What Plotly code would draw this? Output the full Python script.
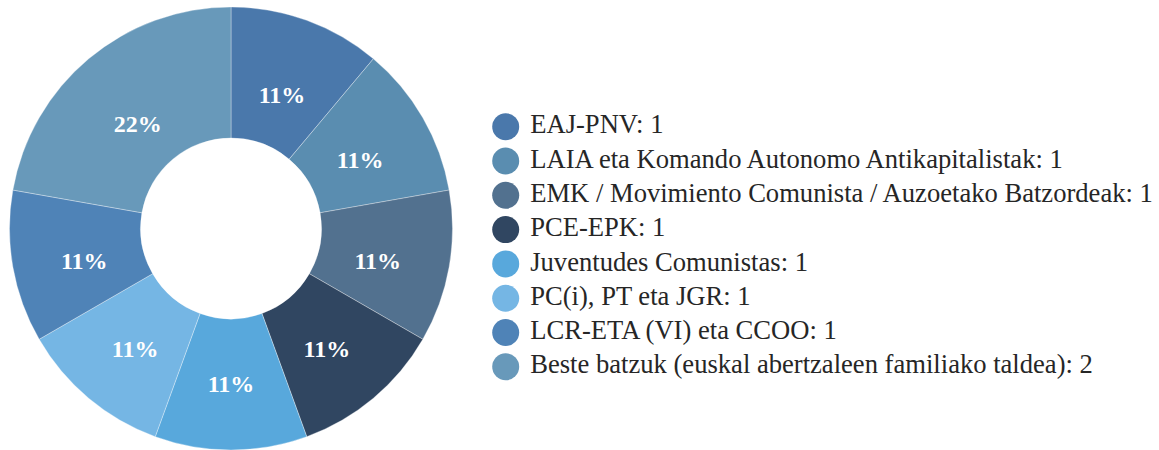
import plotly.graph_objects as go

labels = [
    "EAJ-PNV",
    "LAIA eta Komando Autonomo Antikapitalistak",
    "EMK / Movimiento Comunista / Auzoetako Batzordeak",
    "PCE-EPK",
    "Juventudes Comunistas",
    "PC(i), PT eta JGR",
    "LCR-ETA (VI) eta CCOO",
    "Beste batzuk (euskal abertzaleen familiako taldea)",
]
values = [1, 1, 1, 1, 1, 1, 1, 2]
colors = ["#4a78ab", "#5a8db0", "#52718f", "#304661",
          "#58a8dc", "#75b6e4", "#4f83b7", "#6899ba"]

W, H = 1159, 450
cx, cy, R, r_in = 231, 228.5, 221.5, 90.5
SERIF = "Liberation Serif, DejaVu Serif, Times New Roman, serif"


def dom(rad, dy=0.0):
    return dict(x=[(cx - rad) / W, (cx + rad) / W],
                y=[(H - cy - dy - rad) / H, (H - cy - dy + rad) / H])


fig = go.Figure()
# coloured ring
fig.add_trace(go.Pie(
    labels=labels, values=values, hole=r_in / R, sort=False,
    direction="clockwise", rotation=0,
    marker=dict(colors=colors, line=dict(color="rgba(255,255,255,0.55)", width=0.6)),
    textinfo="none", showlegend=False, hoverinfo="label+value+percent",
    domain=dom(R),
))
# transparent ring that only carries the percentage labels
R2 = 200
fig.add_trace(go.Pie(
    labels=labels, values=values, hole=r_in / R2, sort=False,
    direction="clockwise", rotation=0,
    marker=dict(colors=["rgba(0,0,0,0)"] * len(values), line=dict(width=0)),
    texttemplate="%{percent:.0%}", textposition="inside",
    insidetextorientation="horizontal",
    textfont=dict(family=SERIF, size=24, color="white", weight="bold"),
    showlegend=False, hoverinfo="skip",
    domain=dom(R2, dy=6.5),
))

# custom legend with large circle markers
leg_x0 = 505.7
leg_y0, leg_dy = 126.7, 34.3
fig.add_trace(go.Scatter(
    x=[0] * len(labels), y=list(range(len(labels))),
    mode="markers+text",
    marker=dict(size=27, color=colors, line=dict(width=0)),
    text=[f"\u00a0{l}: {v}" for l, v in zip(labels, values)],
    textposition="middle right",
    textfont=dict(family=SERIF, size=26.6, color="#262626"),
    showlegend=False, hoverinfo="skip", cliponaxis=False,
))

fig.update_layout(
    width=W, height=H,
    margin=dict(l=0, r=0, t=0, b=0),
    paper_bgcolor="white", plot_bgcolor="rgba(0,0,0,0)",
    font=dict(family=SERIF),
    showlegend=False,
    xaxis=dict(visible=False, range=[-leg_x0, W - leg_x0], fixedrange=True),
    yaxis=dict(visible=False, range=[(H - leg_y0) / leg_dy, -leg_y0 / leg_dy], fixedrange=True),
)

fig.write_html("out.html", config={"displayModeBar": False},
               post_script="document.body.style.margin='0px';")
